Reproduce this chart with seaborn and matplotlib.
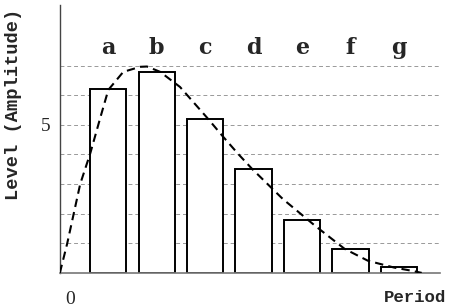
import matplotlib
matplotlib.use("Agg")
import matplotlib.pyplot as plt
import seaborn as sns

# bars a..g
letters = ["a", "b", "c", "d", "e", "f", "g"]
pos = [1, 2, 3, 4, 5, 6, 7]
levels = [6.2, 6.8, 5.2, 3.5, 1.8, 0.8, 0.2]

# dashed envelope
curve_x = [0.0, 0.15, 0.42, 0.63, 0.84, 1.0, 1.31, 1.66, 1.8, 2.07, 2.48,
           3.04, 3.37, 3.68, 3.97, 4.6, 5.27, 5.88, 6.36, 6.9, 7.27, 7.47]
curve_y = [0.0, 0.98, 3.0, 4.05, 5.27, 6.18, 6.79, 6.96, 6.97, 6.79, 6.28,
           5.24, 4.6, 4.02, 3.51, 2.5, 1.59, 0.81, 0.41, 0.18, 0.07, 0.0]

sns.set_style("white")
fig = plt.figure(figsize=(4.5, 3.08), dpi=100)
ax = fig.add_axes([0.133, 0.114, 0.845, 0.87])

sns.barplot(x=pos, y=levels, native_scale=True, width=0.75, color="white",
            edgecolor="black", linewidth=1.4, ax=ax, zorder=2)
sns.lineplot(x=curve_x, y=curve_y, sort=False, color="black", lw=1.5,
             linestyle=(0, (4, 2.5)), ax=ax, zorder=3)

ax.set_xlim(0, 7.85)
ax.set_ylim(0, 9.05)
ax.set_yticks(range(1, 8))
ax.set_yticklabels(["5" if t == 5 else "" for t in range(1, 8)],
                   family="Liberation Serif", fontsize=14)
ax.set_xticks([])
ax.tick_params(axis="y", length=0, pad=7)
ax.yaxis.grid(True, color="#999999", lw=0.7, linestyle=(0, (4, 3)))
ax.set_axisbelow(True)
for s in ["top", "right"]:
    ax.spines[s].set_visible(False)
ax.spines["left"].set_color("#444444")
ax.spines["bottom"].set_color("#777777")
ax.spines["left"].set_linewidth(1.0)
ax.spines["bottom"].set_linewidth(1.2)

for p, l in zip(pos, letters):
    ax.text(p, 7.6, l, ha="center", va="center", family="DejaVu Serif",
            fontweight="bold", fontsize=16)

ax.set_ylabel("Level (Amplitude)", family="Liberation Mono", fontweight="bold",
              fontsize=13.5, labelpad=12)
ax.yaxis.set_label_coords(-0.1, 0.63)
fig.text(70 / 450, 1 - 300 / 308, "0", family="Liberation Serif", fontsize=14,
         ha="center", va="center")
fig.text(446 / 450, 1 - 298 / 308, "Period", family="Liberation Mono",
         fontweight="bold", fontsize=12.5, ha="right", va="center")

fig.savefig("out.png", dpi=100)
